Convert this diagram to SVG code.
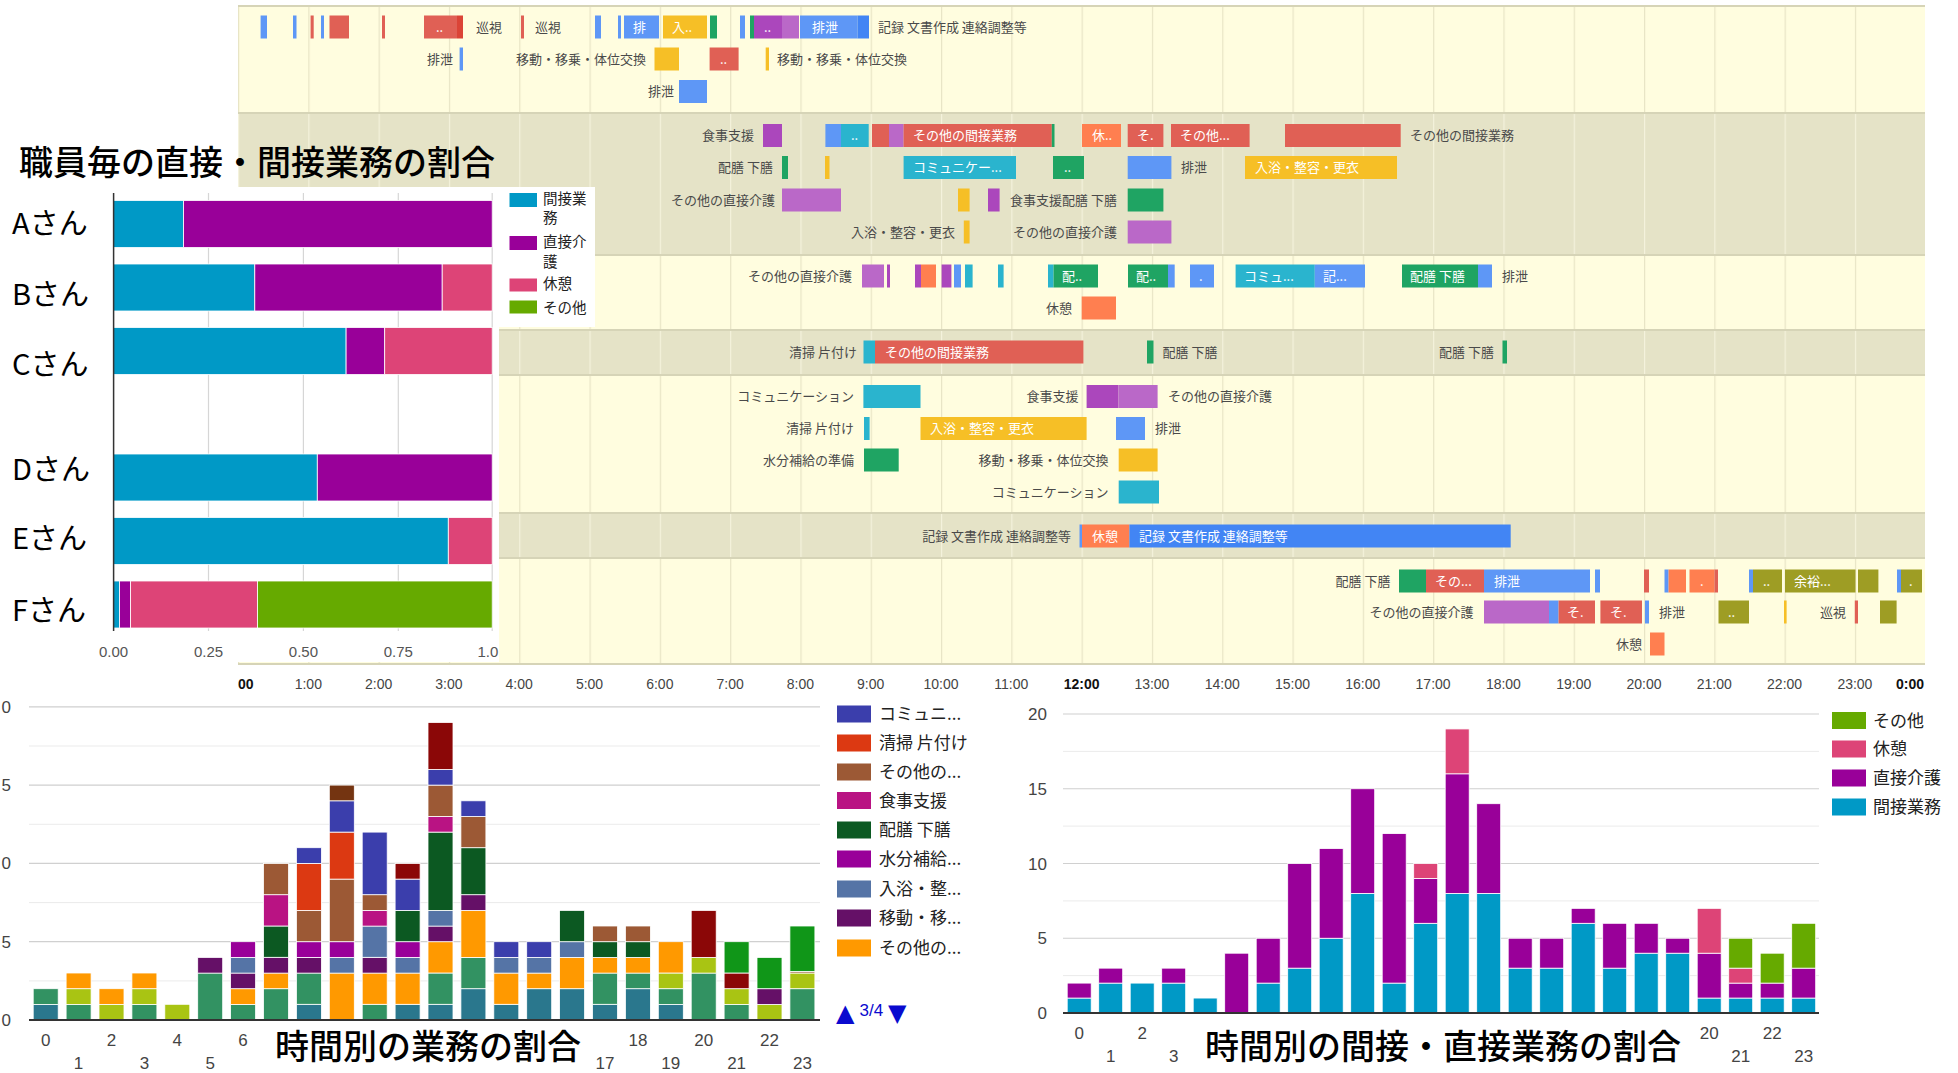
<svg xmlns="http://www.w3.org/2000/svg" width="1958" height="1073" viewBox="0 0 1958 1073">
<style>
.jp{font-family:'Noto Sans CJK JP','Noto Sans CJK SC',sans-serif}
.num{font-family:'Liberation Sans',Arial,sans-serif}
.tl{font-family:'Noto Sans CJK JP',sans-serif;font-size:13px;fill:#4a4a4a}
.tw{font-family:'Noto Sans CJK JP',sans-serif;font-size:13px;fill:#ffffff}
.e{text-anchor:end}
.b{fill:#5E97F6}.bd{fill:#4285F4}.r{fill:#E06055}.rd{fill:#DB4437}.y{fill:#F6BF26}.g{fill:#1FA463}
.p{fill:#AB47BC}.pl{fill:#BA68C8}.c{fill:#2AB4CE}.o{fill:#FF7F50}.ol{fill:#9E9D24}
.ax{font-family:'Liberation Sans',Arial,sans-serif;font-size:14px;fill:#444;text-anchor:middle}
.seg rect{stroke:#ffffff;stroke-width:0.8}
.cT{fill:#2A778D}.cG{fill:#329262}.cY{fill:#A9C413}.cO{fill:#FF9900}.cDP{fill:#651067}.cSB{fill:#5574A6}
.cP{fill:#990099}.cDG{fill:#0C5922}.cM{fill:#B91383}.cBR{fill:#9C5935}.cR{fill:#DC3912}.cI{fill:#3B3EAC}
.cDR{fill:#8B0707}.cBG{fill:#109618}.cDB{fill:#743411}
.k1{fill:#0099C6}.k2{fill:#990099}.k3{fill:#DD4477}.k4{fill:#66AA00}
.lab{font-family:'Liberation Sans',Arial,sans-serif;font-size:17px;fill:#444;text-anchor:middle}
.leg{font-family:'Noto Sans CJK JP',sans-serif;font-size:17px;fill:#222}
.gmaj{stroke:#D0D0D0;stroke-width:1.2}
.gmin{stroke:#EBEBEB;stroke-width:1}
</style>
<defs>
<pattern id="pY" x="238" y="0" width="70.3" height="20" patternUnits="userSpaceOnUse"><rect width="70.3" height="20" fill="#FFFDDF"/><rect width="1.2" height="20" fill="#E8E5C6"/></pattern>
<pattern id="pB" x="238" y="0" width="70.3" height="20" patternUnits="userSpaceOnUse"><rect width="70.3" height="20" fill="#E5E3C7"/><rect width="1.2" height="20" fill="#F4F2DC"/></pattern>
</defs>
<rect width="1958" height="1073" fill="#ffffff"/>

<g id="timeline">
<rect x="238" y="6" width="1687" height="107" fill="url(#pY)"/>
<rect x="238" y="113" width="1687" height="142" fill="url(#pB)"/>
<rect x="238" y="255" width="1687" height="75" fill="url(#pY)"/>
<rect x="238" y="330" width="1687" height="45" fill="url(#pB)"/>
<rect x="238" y="375" width="1687" height="138" fill="url(#pY)"/>
<rect x="238" y="513" width="1687" height="45" fill="url(#pB)"/>
<rect x="238" y="558" width="1687" height="106" fill="url(#pY)"/>
<path d="M238 6H1925M238 113H1925M238 255H1925M238 330H1925M238 375H1925M238 513H1925M238 558H1925M238 664H1925" stroke="#D6D4B7" stroke-width="2" fill="none"/>

<g id="row1">
<rect class="b" x="260.6" y="15.5" width="6.4" height="23"/>
<rect class="b" x="293" y="15.5" width="3.5" height="23"/>
<rect class="r" x="310.6" y="15.5" width="3.1" height="23"/>
<rect class="b" x="321" y="15.5" width="3" height="23"/>
<rect class="r" x="329.5" y="15.5" width="19.5" height="23"/>
<rect class="r" x="382" y="15.5" width="3" height="23"/>
<rect class="r" x="424" y="15.5" width="33" height="23"/>
<text class="tw" x="436" y="31.5" font-size="9">..</text>
<rect class="rd" x="457" y="15.5" width="6" height="23"/>
<text class="tl" x="476" y="31.5">巡視</text>
<rect class="r" x="521" y="15.5" width="3" height="23"/>
<text class="tl" x="535" y="31.5">巡視</text>
<rect class="b" x="595" y="15.5" width="6" height="23"/>
<rect class="b" x="618" y="15.5" width="3" height="23"/>
<rect class="b" x="624" y="15.5" width="35" height="23"/>
<text class="tw" x="633" y="31.5">排</text>
<rect class="y" x="663" y="15.5" width="44" height="23"/>
<text class="tw" x="672" y="31.5">入..</text>
<rect class="g" x="710" y="15.5" width="7" height="23"/>
<rect class="b" x="740" y="15.5" width="5" height="23"/>
<rect class="g" x="750" y="15.5" width="4" height="23"/>
<rect class="p" x="754" y="15.5" width="28" height="23"/>
<text class="tw" x="764" y="31.5" font-size="9">..</text>
<rect class="pl" x="782" y="15.5" width="17" height="23"/>
<rect class="b" x="800" y="15.5" width="57.5" height="23"/>
<text class="tw" x="812" y="31.5">排泄</text>
<rect class="bd" x="857.5" y="15.5" width="11.5" height="23"/>
<text class="tl" x="878" y="31.5">記録 文書作成 連絡調整等</text>

<text class="tl e" x="453" y="63.5">排泄</text>
<rect class="b" x="459.6" y="47.5" width="3.4" height="23"/>
<text class="tl e" x="646" y="63.5">移動・移乗・体位交換</text>
<rect class="y" x="654.5" y="47.5" width="24.5" height="23"/>
<rect class="r" x="709.6" y="47.5" width="29" height="23"/>
<text class="tw" x="720" y="63.5" font-size="9">..</text>
<rect class="y" x="765.7" y="47.5" width="3.3" height="23"/>
<text class="tl" x="777" y="63.5">移動・移乗・体位交換</text>

<text class="tl e" x="674" y="96">排泄</text>
<rect class="b" x="679" y="80" width="28" height="23"/>
</g>

<g id="row2">
<text class="tl e" x="754" y="140">食事支援</text>
<rect class="p" x="763" y="124" width="19" height="23"/>
<rect class="b" x="825.4" y="124" width="15.6" height="23"/>
<rect class="c" x="841" y="124" width="27.7" height="23"/>
<text class="tw" x="851" y="140" font-size="9">..</text>
<rect class="r" x="872" y="124" width="17" height="23"/>
<rect class="pl" x="889" y="124" width="14.6" height="23"/>
<rect class="r" x="903.6" y="124" width="148.2" height="23"/>
<text class="tw" x="913" y="140">その他の間接業務</text>
<rect class="g" x="1051.8" y="124" width="2.7" height="23"/>
<rect class="o" x="1082" y="124" width="39" height="23"/>
<text class="tw" x="1092" y="140">休..</text>
<rect class="r" x="1127.7" y="124" width="35.7" height="23"/>
<text class="tw" x="1137" y="140">そ.</text>
<rect class="r" x="1171" y="124" width="78.6" height="23"/>
<text class="tw" x="1180" y="140">その他...</text>
<rect class="r" x="1285" y="124" width="115.7" height="23"/>
<text class="tl" x="1410" y="140">その他の間接業務</text>

<text class="tl e" x="773" y="172">配膳 下膳</text>
<rect class="g" x="782" y="156" width="6" height="23"/>
<rect class="y" x="825" y="156" width="4.5" height="23"/>
<rect class="c" x="903.6" y="156" width="112.4" height="23"/>
<text class="tw" x="913" y="172">コミュニケー...</text>
<rect class="g" x="1053" y="156" width="31" height="23"/>
<text class="tw" x="1064" y="172" font-size="9">..</text>
<rect class="b" x="1127.7" y="156" width="43.7" height="23"/>
<text class="tl" x="1181" y="172">排泄</text>
<rect class="y" x="1245" y="156" width="152" height="23"/>
<text class="tw" x="1255" y="172">入浴・整容・更衣</text>

<text class="tl e" x="775" y="204.5">その他の直接介護</text>
<rect class="pl" x="782" y="188.5" width="59" height="23"/>
<rect class="y" x="958" y="188.5" width="11.6" height="23"/>
<rect class="p" x="988" y="188.5" width="11.6" height="23"/>
<text class="tl e" x="1117" y="204.5">食事支援配膳 下膳</text>
<rect class="g" x="1127.7" y="188.5" width="35.7" height="23"/>

<text class="tl e" x="955" y="236.5">入浴・整容・更衣</text>
<rect class="y" x="963.8" y="220.5" width="5.8" height="23"/>
<text class="tl e" x="1117" y="236.5">その他の直接介護</text>
<rect class="pl" x="1127.7" y="220.5" width="43.7" height="23"/>
</g>

<g id="row3">
<text class="tl e" x="852" y="280.5">その他の直接介護</text>
<rect class="pl" x="862" y="264.5" width="22" height="23"/>
<rect class="p" x="887" y="264.5" width="3" height="23"/>
<rect class="p" x="915" y="264.5" width="6" height="23"/>
<rect class="o" x="921" y="264.5" width="15" height="23"/>
<rect class="p" x="941.6" y="264.5" width="9.8" height="23"/>
<rect class="b" x="954" y="264.5" width="7" height="23"/>
<rect class="c" x="965" y="264.5" width="7.6" height="23"/>
<rect class="c" x="998" y="264.5" width="5.6" height="23"/>
<rect class="c" x="1048" y="264.5" width="5.6" height="23"/>
<rect class="g" x="1053.6" y="264.5" width="44.4" height="23"/>
<text class="tw" x="1062" y="280.5">配..</text>
<rect class="g" x="1128" y="264.5" width="40" height="23"/>
<text class="tw" x="1136" y="280.5">配..</text>
<rect class="b" x="1168" y="264.5" width="6.7" height="23"/>
<rect class="b" x="1190" y="264.5" width="24" height="23"/>
<text class="tw" x="1199" y="280.5" font-size="9">.</text>
<rect class="c" x="1235.6" y="264.5" width="79.2" height="23"/>
<text class="tw" x="1244" y="280.5">コミュ...</text>
<rect class="b" x="1314.8" y="264.5" width="50.2" height="23"/>
<text class="tw" x="1323" y="280.5">記...</text>
<rect class="g" x="1402" y="264.5" width="76" height="23"/>
<text class="tw" x="1410" y="280.5">配膳 下膳</text>
<rect class="b" x="1478" y="264.5" width="14" height="23"/>
<text class="tl" x="1502" y="280.5">排泄</text>

<text class="tl e" x="1072" y="312.5">休憩</text>
<rect class="o" x="1081.7" y="296.5" width="34.3" height="23"/>
</g>

<g id="row4">
<text class="tl e" x="857" y="356.5">清掃 片付け</text>
<rect class="c" x="863.5" y="340.5" width="11.5" height="23"/>
<rect class="r" x="875" y="340.5" width="208.4" height="23"/>
<text class="tw" x="885" y="356.5">その他の間接業務</text>
<rect class="g" x="1147" y="340.5" width="6.5" height="23"/>
<text class="tl" x="1162.6" y="356.5">配膳 下膳</text>
<text class="tl e" x="1494" y="356.5">配膳 下膳</text>
<rect class="g" x="1502.5" y="340.5" width="4.5" height="23"/>
</g>

<g id="row5">
<text class="tl e" x="854" y="401">コミュニケーション</text>
<rect class="c" x="863.4" y="385" width="57.1" height="23"/>
<text class="tl e" x="1078.6" y="401">食事支援</text>
<rect class="p" x="1086.6" y="385" width="31.7" height="23"/>
<rect class="pl" x="1118.3" y="385" width="39.3" height="23"/>
<text class="tl" x="1168" y="401">その他の直接介護</text>

<text class="tl e" x="854" y="433">清掃 片付け</text>
<rect class="c" x="864" y="417" width="5.6" height="23"/>
<rect class="y" x="920.5" y="417" width="166.1" height="23"/>
<text class="tw" x="930" y="433">入浴・整容・更衣</text>
<rect class="b" x="1116" y="417" width="29" height="23"/>
<text class="tl" x="1155" y="433">排泄</text>

<text class="tl e" x="854" y="464.5">水分補給の準備</text>
<rect class="g" x="864" y="448.5" width="34.7" height="23"/>
<text class="tl e" x="1108.5" y="464.5">移動・移乗・体位交換</text>
<rect class="y" x="1118.7" y="448.5" width="38.9" height="23"/>

<text class="tl e" x="1108.5" y="496.5">コミュニケーション</text>
<rect class="c" x="1118.7" y="480.5" width="40.3" height="23"/>
</g>

<g id="row6">
<text class="tl e" x="1071" y="540.5">記録 文書作成 連絡調整等</text>
<rect class="b" x="1079.5" y="524.5" width="2.5" height="23"/>
<rect class="o" x="1082" y="524.5" width="47.4" height="23"/>
<text class="tw" x="1092" y="540.5">休憩</text>
<rect class="bd" x="1129.4" y="524.5" width="381.3" height="23"/>
<text class="tw" x="1139" y="540.5">記録 文書作成 連絡調整等</text>
</g>

<g id="row7">
<text class="tl e" x="1390.5" y="585.5">配膳 下膳</text>
<rect class="g" x="1399" y="569.5" width="27" height="23"/>
<rect class="r" x="1426" y="569.5" width="58" height="23"/>
<text class="tw" x="1435" y="585.5">その...</text>
<rect class="b" x="1484" y="569.5" width="106" height="23"/>
<text class="tw" x="1494" y="585.5">排泄</text>
<rect class="b" x="1595" y="569.5" width="5" height="23"/>
<rect class="r" x="1644" y="569.5" width="5" height="23"/>
<rect class="b" x="1664.5" y="569.5" width="4.1" height="23"/>
<rect class="o" x="1668.6" y="569.5" width="17.4" height="23"/>
<rect class="o" x="1689.5" y="569.5" width="25" height="23"/>
<text class="tw" x="1700" y="585.5" font-size="9">.</text>
<rect class="r" x="1714.5" y="569.5" width="3.5" height="23"/>
<rect class="b" x="1749" y="569.5" width="4" height="23"/>
<rect class="ol" x="1753" y="569.5" width="29" height="23"/>
<text class="tw" x="1763" y="585.5" font-size="9">..</text>
<rect class="ol" x="1785" y="569.5" width="70.5" height="23"/>
<text class="tw" x="1794" y="585.5">余裕...</text>
<rect class="ol" x="1858" y="569.5" width="20.4" height="23"/>
<rect class="b" x="1897" y="569.5" width="4" height="23"/>
<rect class="ol" x="1901" y="569.5" width="21" height="23"/>
<text class="tw" x="1909" y="585.5" font-size="9">.</text>

<text class="tl e" x="1473.5" y="616.5">その他の直接介護</text>
<rect class="pl" x="1484" y="600.5" width="65" height="23"/>
<rect class="b" x="1549" y="600.5" width="9.6" height="23"/>
<rect class="r" x="1558.6" y="600.5" width="36.4" height="23"/>
<text class="tw" x="1567" y="616.5">そ.</text>
<rect class="r" x="1600.4" y="600.5" width="41.6" height="23"/>
<text class="tw" x="1610" y="616.5">そ.</text>
<rect class="b" x="1645" y="600.5" width="4" height="23"/>
<text class="tl" x="1659" y="616.5">排泄</text>
<rect class="ol" x="1718.5" y="600.5" width="30.5" height="23"/>
<text class="tw" x="1728" y="616.5" font-size="9">..</text>
<rect class="y" x="1784" y="600.5" width="2.6" height="23"/>
<text class="tl e" x="1846" y="616.5">巡視</text>
<rect class="r" x="1854.8" y="600.5" width="3.2" height="23"/>
<rect class="ol" x="1880" y="600.5" width="16.6" height="23"/>

<text class="tl e" x="1642" y="648.5">休憩</text>
<rect class="o" x="1650" y="632.5" width="14.5" height="23"/>
</g>

<g id="time-axis">
<text class="ax" x="238" y="689" style="text-anchor:start;font-weight:bold;fill:#111">00</text>
<text class="ax" x="308.3" y="689">1:00</text>
<text class="ax" x="378.6" y="689">2:00</text>
<text class="ax" x="448.9" y="689">3:00</text>
<text class="ax" x="519.2" y="689">4:00</text>
<text class="ax" x="589.5" y="689">5:00</text>
<text class="ax" x="659.8" y="689">6:00</text>
<text class="ax" x="730.1" y="689">7:00</text>
<text class="ax" x="800.4" y="689">8:00</text>
<text class="ax" x="870.7" y="689">9:00</text>
<text class="ax" x="941" y="689">10:00</text>
<text class="ax" x="1011.3" y="689">11:00</text>
<text class="ax" x="1081.6" y="689" style="font-weight:bold;fill:#111">12:00</text>
<text class="ax" x="1151.9" y="689">13:00</text>
<text class="ax" x="1222.2" y="689">14:00</text>
<text class="ax" x="1292.5" y="689">15:00</text>
<text class="ax" x="1362.8" y="689">16:00</text>
<text class="ax" x="1433.1" y="689">17:00</text>
<text class="ax" x="1503.4" y="689">18:00</text>
<text class="ax" x="1573.7" y="689">19:00</text>
<text class="ax" x="1644" y="689">20:00</text>
<text class="ax" x="1714.3" y="689">21:00</text>
<text class="ax" x="1784.6" y="689">22:00</text>
<text class="ax" x="1854.9" y="689">23:00</text>
<text class="ax" x="1924" y="689" style="text-anchor:end;font-weight:bold;fill:#111">0:00</text>
</g>
</g>

<g id="staff-chart">
<rect x="237" y="187" width="262" height="475" fill="#ffffff"/>
<rect x="499" y="187" width="96" height="140" fill="#ffffff"/>
<text class="jp" x="19" y="175" font-size="34" font-weight="500" fill="#000">職員毎の直接・間接業務の割合</text>
<path d="M208.5 193V631M303.4 193V631M398.3 193V631M492.2 193V631" stroke="#D6D6D6" stroke-width="1.2"/>
<g class="seg">
<rect class="k1" x="113.6" y="200.5" width="70" height="47"/>
<rect class="k2" x="183.6" y="200.5" width="308.6" height="47"/>
<rect class="k1" x="113.6" y="264" width="141.2" height="47"/>
<rect class="k2" x="254.8" y="264" width="187.4" height="47"/>
<rect class="k3" x="442.2" y="264" width="50" height="47"/>
<rect class="k1" x="113.6" y="327.5" width="232.5" height="47"/>
<rect class="k2" x="346.1" y="327.5" width="38.6" height="47"/>
<rect class="k3" x="384.7" y="327.5" width="107.5" height="47"/>
<rect class="k1" x="113.6" y="454" width="203.7" height="47"/>
<rect class="k2" x="317.3" y="454" width="174.9" height="47"/>
<rect class="k1" x="113.6" y="517.5" width="334.7" height="47"/>
<rect class="k3" x="448.3" y="517.5" width="43.9" height="47"/>
<rect class="k1" x="113.6" y="581" width="6" height="47"/>
<rect class="k2" x="119.6" y="581" width="11" height="47"/>
<rect class="k3" x="130.6" y="581" width="126.9" height="47"/>
<rect class="k4" x="257.5" y="581" width="234.7" height="47"/>
</g>
<path d="M113.6 193V631" stroke="#333" stroke-width="1.5"/>
<g class="jp" font-size="29" fill="#000">
<text x="12" y="233.5">Aさん</text>
<text x="12" y="304.7">Bさん</text>
<text x="12" y="374.6">Cさん</text>
<text x="12" y="479.5">Dさん</text>
<text x="12" y="549.4">Eさん</text>
<text x="12" y="620.6">Fさん</text>
</g>
<g class="num" font-size="15" fill="#555" text-anchor="middle">
<text x="113.6" y="657">0.00</text>
<text x="208.5" y="657">0.25</text>
<text x="303.4" y="657">0.50</text>
<text x="398.3" y="657">0.75</text>
<text x="477.5" y="657" text-anchor="start">1.0</text>
</g>
<rect class="k1" x="509.5" y="193" width="27.5" height="14"/>
<rect class="k2" x="509.5" y="236" width="27.5" height="14"/>
<rect class="k3" x="509.5" y="278.5" width="27.5" height="13"/>
<rect class="k4" x="509.5" y="300.5" width="27.5" height="13"/>
<g class="jp" font-size="14.5" fill="#222">
<text x="543" y="204">間接業</text>
<text x="543" y="222.5">務</text>
<text x="543" y="246.5">直接介</text>
<text x="543" y="266.5">護</text>
<text x="543" y="289">休憩</text>
<text x="543" y="312.5">その他</text>
</g>
</g>

<g id="task-hour-chart">
<path class="gmin" d="M29 980.9H820M29 902.6H820M29 824.3H820M29 746H820"/>
<path class="gmaj" d="M29 941.7H820M29 863.4H820M29 785.1H820M29 706.8H820"/>
<g class="num" font-size="17" fill="#444" text-anchor="end">
<text x="11" y="712.8">0</text>
<text x="11" y="791.1">5</text>
<text x="11" y="869.4">0</text>
<text x="11" y="947.7">5</text>
<text x="11" y="1026">0</text>
</g>
<g class="seg">
<rect class="cT" x="33.2" y="1004.3" width="25" height="15.7"/>
<rect class="cG" x="33.2" y="988.7" width="25" height="15.7"/>
<rect class="cG" x="66.1" y="1004.3" width="25" height="15.7"/>
<rect class="cY" x="66.1" y="988.7" width="25" height="15.7"/>
<rect class="cO" x="66.1" y="973" width="25" height="15.7"/>
<rect class="cY" x="99" y="1004.3" width="25" height="15.7"/>
<rect class="cO" x="99" y="988.7" width="25" height="15.7"/>
<rect class="cG" x="131.9" y="1004.3" width="25" height="15.7"/>
<rect class="cY" x="131.9" y="988.7" width="25" height="15.7"/>
<rect class="cO" x="131.9" y="973" width="25" height="15.7"/>
<rect class="cY" x="164.8" y="1004.3" width="25" height="15.7"/>
<rect class="cG" x="197.7" y="973" width="25" height="47"/>
<rect class="cDP" x="197.7" y="957.4" width="25" height="15.7"/>
<rect class="cG" x="230.6" y="1004.3" width="25" height="15.7"/>
<rect class="cO" x="230.6" y="988.7" width="25" height="15.7"/>
<rect class="cDP" x="230.6" y="973" width="25" height="15.7"/>
<rect class="cSB" x="230.6" y="957.4" width="25" height="15.7"/>
<rect class="cP" x="230.6" y="941.7" width="25" height="15.7"/>
<rect class="cG" x="263.5" y="988.7" width="25" height="31.3"/>
<rect class="cO" x="263.5" y="973" width="25" height="15.7"/>
<rect class="cDP" x="263.5" y="957.4" width="25" height="15.7"/>
<rect class="cDG" x="263.5" y="926" width="25" height="31.3"/>
<rect class="cM" x="263.5" y="894.7" width="25" height="31.3"/>
<rect class="cBR" x="263.5" y="863.4" width="25" height="31.3"/>
<rect class="cT" x="296.4" y="1004.3" width="25" height="15.7"/>
<rect class="cG" x="296.4" y="973" width="25" height="31.3"/>
<rect class="cDP" x="296.4" y="957.4" width="25" height="15.7"/>
<rect class="cP" x="296.4" y="941.7" width="25" height="15.7"/>
<rect class="cBR" x="296.4" y="910.4" width="25" height="31.3"/>
<rect class="cR" x="296.4" y="863.4" width="25" height="47"/>
<rect class="cI" x="296.4" y="847.7" width="25" height="15.7"/>
<rect class="cO" x="329.3" y="973" width="25" height="47"/>
<rect class="cSB" x="329.3" y="957.4" width="25" height="15.7"/>
<rect class="cP" x="329.3" y="941.7" width="25" height="15.7"/>
<rect class="cBR" x="329.3" y="879.1" width="25" height="62.6"/>
<rect class="cR" x="329.3" y="832.1" width="25" height="47"/>
<rect class="cI" x="329.3" y="800.8" width="25" height="31.3"/>
<rect class="cDB" x="329.3" y="785.1" width="25" height="15.7"/>
<rect class="cG" x="362.2" y="1004.3" width="25" height="15.7"/>
<rect class="cO" x="362.2" y="973" width="25" height="31.3"/>
<rect class="cDP" x="362.2" y="957.4" width="25" height="15.7"/>
<rect class="cSB" x="362.2" y="926" width="25" height="31.3"/>
<rect class="cM" x="362.2" y="910.4" width="25" height="15.7"/>
<rect class="cBR" x="362.2" y="894.7" width="25" height="15.7"/>
<rect class="cI" x="362.2" y="832.1" width="25" height="62.6"/>
<rect class="cT" x="395.1" y="1004.3" width="25" height="15.7"/>
<rect class="cO" x="395.1" y="973" width="25" height="31.3"/>
<rect class="cSB" x="395.1" y="957.4" width="25" height="15.7"/>
<rect class="cP" x="395.1" y="941.7" width="25" height="15.7"/>
<rect class="cDG" x="395.1" y="910.4" width="25" height="31.3"/>
<rect class="cI" x="395.1" y="879.1" width="25" height="31.3"/>
<rect class="cDR" x="395.1" y="863.4" width="25" height="15.7"/>
<rect class="cT" x="428" y="1004.3" width="25" height="15.7"/>
<rect class="cG" x="428" y="973" width="25" height="31.3"/>
<rect class="cO" x="428" y="941.7" width="25" height="31.3"/>
<rect class="cDP" x="428" y="926" width="25" height="15.7"/>
<rect class="cSB" x="428" y="910.4" width="25" height="15.7"/>
<rect class="cDG" x="428" y="832.1" width="25" height="78.3"/>
<rect class="cM" x="428" y="816.4" width="25" height="15.7"/>
<rect class="cBR" x="428" y="785.1" width="25" height="31.3"/>
<rect class="cI" x="428" y="769.4" width="25" height="15.7"/>
<rect class="cDR" x="428" y="722.5" width="25" height="47"/>
<rect class="cT" x="460.9" y="988.7" width="25" height="31.3"/>
<rect class="cG" x="460.9" y="957.4" width="25" height="31.3"/>
<rect class="cO" x="460.9" y="910.4" width="25" height="47"/>
<rect class="cDP" x="460.9" y="894.7" width="25" height="15.7"/>
<rect class="cDG" x="460.9" y="847.7" width="25" height="47"/>
<rect class="cBR" x="460.9" y="816.4" width="25" height="31.3"/>
<rect class="cI" x="460.9" y="800.8" width="25" height="15.7"/>
<rect class="cT" x="493.8" y="1004.3" width="25" height="15.7"/>
<rect class="cO" x="493.8" y="973" width="25" height="31.3"/>
<rect class="cSB" x="493.8" y="957.4" width="25" height="15.7"/>
<rect class="cI" x="493.8" y="941.7" width="25" height="15.7"/>
<rect class="cT" x="526.7" y="988.7" width="25" height="31.3"/>
<rect class="cO" x="526.7" y="973" width="25" height="15.7"/>
<rect class="cSB" x="526.7" y="957.4" width="25" height="15.7"/>
<rect class="cI" x="526.7" y="941.7" width="25" height="15.7"/>
<rect class="cT" x="559.6" y="988.7" width="25" height="31.3"/>
<rect class="cO" x="559.6" y="957.4" width="25" height="31.3"/>
<rect class="cSB" x="559.6" y="941.7" width="25" height="15.7"/>
<rect class="cDG" x="559.6" y="910.4" width="25" height="31.3"/>
<rect class="cT" x="592.5" y="1004.3" width="25" height="15.7"/>
<rect class="cG" x="592.5" y="973" width="25" height="31.3"/>
<rect class="cO" x="592.5" y="957.4" width="25" height="15.7"/>
<rect class="cDG" x="592.5" y="941.7" width="25" height="15.7"/>
<rect class="cBR" x="592.5" y="926" width="25" height="15.7"/>
<rect class="cT" x="625.4" y="988.7" width="25" height="31.3"/>
<rect class="cG" x="625.4" y="973" width="25" height="15.7"/>
<rect class="cO" x="625.4" y="957.4" width="25" height="15.7"/>
<rect class="cDG" x="625.4" y="941.7" width="25" height="15.7"/>
<rect class="cBR" x="625.4" y="926" width="25" height="15.7"/>
<rect class="cT" x="658.3" y="1004.3" width="25" height="15.7"/>
<rect class="cG" x="658.3" y="988.7" width="25" height="15.7"/>
<rect class="cY" x="658.3" y="973" width="25" height="15.7"/>
<rect class="cO" x="658.3" y="941.7" width="25" height="31.3"/>
<rect class="cG" x="691.2" y="973" width="25" height="47"/>
<rect class="cY" x="691.2" y="957.4" width="25" height="15.7"/>
<rect class="cDR" x="691.2" y="910.4" width="25" height="47"/>
<rect class="cG" x="724.1" y="1004.3" width="25" height="15.7"/>
<rect class="cY" x="724.1" y="988.7" width="25" height="15.7"/>
<rect class="cDR" x="724.1" y="973" width="25" height="15.7"/>
<rect class="cBG" x="724.1" y="941.7" width="25" height="31.3"/>
<rect class="cY" x="757" y="1004.3" width="25" height="15.7"/>
<rect class="cDP" x="757" y="988.7" width="25" height="15.7"/>
<rect class="cBG" x="757" y="957.4" width="25" height="31.3"/>
<rect class="cG" x="789.9" y="988.7" width="25" height="31.3"/>
<rect class="cY" x="789.9" y="973" width="25" height="15.7"/>
<rect class="cBR" x="789.9" y="971.4" width="25" height="1.6"/>
<rect class="cBG" x="789.9" y="926" width="25" height="45.4"/>
</g>
<path d="M29 1020H820" stroke="#333" stroke-width="2"/>
<g class="lab">
<text x="45.7" y="1046">0</text><text x="111.5" y="1046">2</text><text x="177.3" y="1046">4</text><text x="243.1" y="1046">6</text>
<text x="637.9" y="1046">18</text><text x="703.7" y="1046">20</text><text x="769.5" y="1046">22</text>
<text x="78.6" y="1069">1</text><text x="144.4" y="1069">3</text><text x="210.2" y="1069">5</text>
<text x="605" y="1069">17</text><text x="670.8" y="1069">19</text><text x="736.6" y="1069">21</text><text x="802.4" y="1069">23</text>
</g>
<rect x="270" y="1025" width="320" height="48" fill="#ffffff"/>
<text class="jp" x="275" y="1059" font-size="34" font-weight="500" fill="#000">時間別の業務の割合</text>
<rect class="cI" x="837" y="705.5" width="34" height="17"/>
<rect class="cR" x="837" y="734.5" width="34" height="17"/>
<rect class="cBR" x="837" y="763.5" width="34" height="17"/>
<rect class="cM" x="837" y="792" width="34" height="17"/>
<rect class="cDG" x="837" y="821.5" width="34" height="17"/>
<rect class="cP" x="837" y="850.5" width="34" height="17"/>
<rect class="cSB" x="837" y="880.5" width="34" height="17"/>
<rect class="cDP" x="837" y="909.5" width="34" height="17"/>
<rect class="cO" x="837" y="939.5" width="34" height="17"/>
<g class="leg">
<text x="879" y="720">コミュニ...</text>
<text x="879" y="749">清掃 片付け</text>
<text x="879" y="778">その他の...</text>
<text x="879" y="806.5">食事支援</text>
<text x="879" y="836">配膳 下膳</text>
<text x="879" y="865">水分補給...</text>
<text x="879" y="895">入浴・整...</text>
<text x="879" y="924">移動・移...</text>
<text x="879" y="954">その他の...</text>
</g>
<text x="836" y="1021" fill="#0A0ACF"><tspan font-family="'DejaVu Sans',sans-serif" font-size="24">▲</tspan><tspan class="num" font-size="17" dx="5" dy="-5">3/4</tspan><tspan font-family="'DejaVu Sans',sans-serif" font-size="24" dx="5" dy="5">▼</tspan></text>
</g>

<g id="type-hour-chart">
<path class="gmin" d="M1063 975.6H1819M1063 900.9H1819M1063 826.1H1819M1063 751.4H1819"/>
<path class="gmaj" d="M1063 938.25H1819M1063 863.5H1819M1063 788.75H1819M1063 714H1819"/>
<g class="num" font-size="17" fill="#444" text-anchor="end">
<text x="1047" y="720">20</text>
<text x="1047" y="794.8">15</text>
<text x="1047" y="869.5">10</text>
<text x="1047" y="944.3">5</text>
<text x="1047" y="1019">0</text>
</g>
<g class="seg">
<rect class="k1" x="1067.2" y="998.05" width="24" height="14.95"/><rect class="k2" x="1067.2" y="983.1" width="24" height="14.95"/>
<rect class="k1" x="1098.7" y="983.1" width="24" height="29.9"/><rect class="k2" x="1098.7" y="968.15" width="24" height="14.95"/>
<rect class="k1" x="1130.2" y="983.1" width="24" height="29.9"/>
<rect class="k1" x="1161.7" y="983.1" width="24" height="29.9"/><rect class="k2" x="1161.7" y="968.15" width="24" height="14.95"/>
<rect class="k1" x="1193.2" y="998.05" width="24" height="14.95"/>
<rect class="k2" x="1224.7" y="953.2" width="24" height="59.8"/>
<rect class="k1" x="1256.2" y="983.1" width="24" height="29.9"/><rect class="k2" x="1256.2" y="938.25" width="24" height="44.85"/>
<rect class="k1" x="1287.7" y="968.15" width="24" height="44.85"/><rect class="k2" x="1287.7" y="863.5" width="24" height="104.65"/>
<rect class="k1" x="1319.2" y="938.25" width="24" height="74.75"/><rect class="k2" x="1319.2" y="848.55" width="24" height="89.7"/>
<rect class="k1" x="1350.7" y="893.4" width="24" height="119.6"/><rect class="k2" x="1350.7" y="788.75" width="24" height="104.65"/>
<rect class="k1" x="1382.2" y="983.1" width="24" height="29.9"/><rect class="k2" x="1382.2" y="833.6" width="24" height="149.5"/>
<rect class="k1" x="1413.7" y="923.3" width="24" height="89.7"/><rect class="k2" x="1413.7" y="878.45" width="24" height="44.85"/><rect class="k3" x="1413.7" y="863.5" width="24" height="14.95"/>
<rect class="k1" x="1445.2" y="893.4" width="24" height="119.6"/><rect class="k2" x="1445.2" y="773.8" width="24" height="119.6"/><rect class="k3" x="1445.2" y="728.95" width="24" height="44.85"/>
<rect class="k1" x="1476.7" y="893.4" width="24" height="119.6"/><rect class="k2" x="1476.7" y="803.7" width="24" height="89.7"/>
<rect class="k1" x="1508.2" y="968.15" width="24" height="44.85"/><rect class="k2" x="1508.2" y="938.25" width="24" height="29.9"/>
<rect class="k1" x="1539.7" y="968.15" width="24" height="44.85"/><rect class="k2" x="1539.7" y="938.25" width="24" height="29.9"/>
<rect class="k1" x="1571.2" y="923.3" width="24" height="89.7"/><rect class="k2" x="1571.2" y="908.35" width="24" height="14.95"/>
<rect class="k1" x="1602.7" y="968.15" width="24" height="44.85"/><rect class="k2" x="1602.7" y="923.3" width="24" height="44.85"/>
<rect class="k1" x="1634.2" y="953.2" width="24" height="59.8"/><rect class="k2" x="1634.2" y="923.3" width="24" height="29.9"/>
<rect class="k1" x="1665.7" y="953.2" width="24" height="59.8"/><rect class="k2" x="1665.7" y="938.25" width="24" height="14.95"/>
<rect class="k1" x="1697.2" y="998.05" width="24" height="14.95"/><rect class="k2" x="1697.2" y="953.2" width="24" height="44.85"/><rect class="k3" x="1697.2" y="908.35" width="24" height="44.85"/>
<rect class="k1" x="1728.7" y="998.05" width="24" height="14.95"/><rect class="k2" x="1728.7" y="983.1" width="24" height="14.95"/><rect class="k3" x="1728.7" y="968.15" width="24" height="14.95"/><rect class="k4" x="1728.7" y="938.25" width="24" height="29.9"/>
<rect class="k1" x="1760.2" y="998.05" width="24" height="14.95"/><rect class="k2" x="1760.2" y="983.1" width="24" height="14.95"/><rect class="k4" x="1760.2" y="953.2" width="24" height="29.9"/>
<rect class="k1" x="1791.7" y="998.05" width="24" height="14.95"/><rect class="k2" x="1791.7" y="968.15" width="24" height="29.9"/><rect class="k4" x="1791.7" y="923.3" width="24" height="44.85"/>
</g>
<path d="M1063 1013H1819" stroke="#333" stroke-width="2"/>
<g class="lab">
<text x="1079.2" y="1039">0</text><text x="1142.2" y="1039">2</text><text x="1709.2" y="1039">20</text><text x="1772.2" y="1039">22</text>
<text x="1110.7" y="1062">1</text><text x="1173.7" y="1062">3</text><text x="1740.7" y="1062">21</text><text x="1803.7" y="1062">23</text>
</g>
<rect x="1198" y="1022" width="495" height="51" fill="#ffffff"/>
<text class="jp" x="1205" y="1059" font-size="34" font-weight="500" fill="#000">時間別の間接・直接業務の割合</text>
<rect class="k4" x="1832" y="712" width="34" height="17"/>
<rect class="k3" x="1832" y="740.5" width="34" height="17"/>
<rect class="k2" x="1832" y="769.5" width="34" height="17"/>
<rect class="k1" x="1832" y="798.5" width="34" height="17"/>
<g class="leg">
<text x="1873" y="726.5">その他</text>
<text x="1873" y="755">休憩</text>
<text x="1873" y="784">直接介護</text>
<text x="1873" y="813">間接業務</text>
</g>
</g>
</svg>
